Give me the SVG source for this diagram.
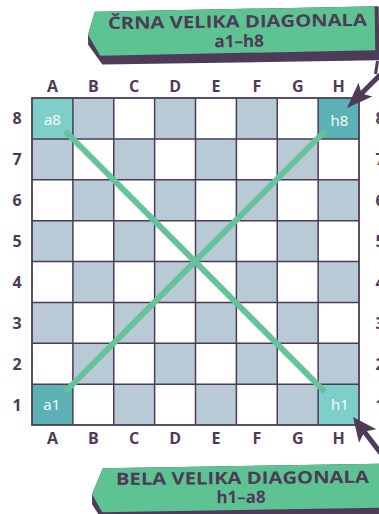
<svg xmlns="http://www.w3.org/2000/svg" width="379" height="514" viewBox="0 0 379 514">
<defs>
<style>
.lbl{font-family:"Open Sans","Liberation Sans",sans-serif;font-weight:700;font-size:16px;fill:#4d3b58;text-anchor:middle}
.sq{font-family:"Open Sans","Liberation Sans",sans-serif;font-weight:500;font-size:15px;fill:#ffffff;text-anchor:middle}
.ban{font-family:"Open Sans","Liberation Sans",sans-serif;font-weight:700;font-size:17px;fill:#4d3b58;text-anchor:middle}
.dk{fill:#b9cad7}
.diag{stroke:#66c299;stroke-width:6;stroke-linecap:butt;fill:none}
.arrow{fill:#4d3b58}
</style>
</defs>
<rect width="379" height="514" fill="#ffffff"/>

<g id="banner-top" transform="rotate(-0.7 235 32)">
<polygon points="95,10 379,8 379,62 102,63 88,43 88,33" fill="#4d3b58"/>
<polygon points="95,10 375,8 375,52 100,54 88,33" fill="#5ec393"/>
<text class="ban" x="237.5" y="27.5" textLength="259" lengthAdjust="spacingAndGlyphs">ČRNA VELIKA DIAGONALA</text>
<text class="ban" x="239" y="47">a1–h8</text>
</g>

<g id="banner-bottom" transform="rotate(-0.5 240 488)">
<polygon points="92,493 103,467 381,465 381,516 100,516 92,503" fill="#4d3b58"/>
<polygon points="92,493 103,467 381,465 381,509 102,511" fill="#5ec393"/>
<text class="ban" x="242.5" y="484" textLength="253" lengthAdjust="spacingAndGlyphs">BELA VELIKA DIAGONALA</text>
<text class="ban" x="241" y="503">h1–a8</text>
</g>

<g id="board">
<rect x="32" y="98" width="327" height="327" fill="#ffffff"/>
<g id="dark-squares">
<rect class="dk" x="72.875" y="98" width="40.875" height="40.875"/>
<rect class="dk" x="154.625" y="98" width="40.875" height="40.875"/>
<rect class="dk" x="236.375" y="98" width="40.875" height="40.875"/>
<rect class="dk" x="32" y="138.875" width="40.875" height="40.875"/>
<rect class="dk" x="113.75" y="138.875" width="40.875" height="40.875"/>
<rect class="dk" x="195.5" y="138.875" width="40.875" height="40.875"/>
<rect class="dk" x="277.25" y="138.875" width="40.875" height="40.875"/>
<rect class="dk" x="72.875" y="179.75" width="40.875" height="40.875"/>
<rect class="dk" x="154.625" y="179.75" width="40.875" height="40.875"/>
<rect class="dk" x="236.375" y="179.75" width="40.875" height="40.875"/>
<rect class="dk" x="318.125" y="179.75" width="40.875" height="40.875"/>
<rect class="dk" x="32" y="220.625" width="40.875" height="40.875"/>
<rect class="dk" x="113.75" y="220.625" width="40.875" height="40.875"/>
<rect class="dk" x="195.5" y="220.625" width="40.875" height="40.875"/>
<rect class="dk" x="277.25" y="220.625" width="40.875" height="40.875"/>
<rect class="dk" x="72.875" y="261.5" width="40.875" height="40.875"/>
<rect class="dk" x="154.625" y="261.5" width="40.875" height="40.875"/>
<rect class="dk" x="236.375" y="261.5" width="40.875" height="40.875"/>
<rect class="dk" x="318.125" y="261.5" width="40.875" height="40.875"/>
<rect class="dk" x="32" y="302.375" width="40.875" height="40.875"/>
<rect class="dk" x="113.75" y="302.375" width="40.875" height="40.875"/>
<rect class="dk" x="195.5" y="302.375" width="40.875" height="40.875"/>
<rect class="dk" x="277.25" y="302.375" width="40.875" height="40.875"/>
<rect class="dk" x="72.875" y="343.25" width="40.875" height="40.875"/>
<rect class="dk" x="154.625" y="343.25" width="40.875" height="40.875"/>
<rect class="dk" x="236.375" y="343.25" width="40.875" height="40.875"/>
<rect class="dk" x="318.125" y="343.25" width="40.875" height="40.875"/>
<rect class="dk" x="113.75" y="384.125" width="40.875" height="40.875"/>
<rect class="dk" x="195.5" y="384.125" width="40.875" height="40.875"/>
<rect class="dk" x="277.25" y="384.125" width="40.875" height="40.875"/>
</g>
<g id="sq-a8"><rect x="32" y="98" width="40.875" height="40.875" fill="#7ecfca"/><text class="sq" x="52.4" y="125">a8</text></g>
<g id="sq-h8"><rect x="318.125" y="98" width="40.875" height="40.875" fill="#5bb1b3"/><text class="sq" x="339.5" y="125.5">h8</text></g>
<g id="sq-a1"><rect x="32" y="384.125" width="40.875" height="40.875" fill="#5bb1b3"/><text class="sq" x="51.8" y="410">a1</text></g>
<g id="sq-h1"><rect x="318.125" y="384.125" width="40.875" height="40.875" fill="#7ecfca"/><text class="sq" x="340" y="409.5">h1</text></g>
<path d="M72.875 98V425M113.75 98V425M154.625 98V425M195.5 98V425M236.375 98V425M277.25 98V425M318.125 98V425M32 138.875H359M32 179.75H359M32 220.625H359M32 261.5H359M32 302.375H359M32 343.25H359M32 384.125H359" stroke="#4d3b58" stroke-width="1.5" fill="none"/>
<rect x="32" y="98" width="327" height="327" stroke="#4d3b58" stroke-width="1.8" fill="none"/>
</g>

<g id="connectors">
<line class="diag" x1="65" y1="131" x2="325" y2="392"/>
<line class="diag" x1="65" y1="392" x2="325" y2="131"/>
<g id="arrow-top">
<line x1="360" y1="95" x2="382" y2="73" stroke="#4d3b58" stroke-width="5"/>
<polygon class="arrow" points="347,108 358.5,82.7 361.5,93.5 372.3,96.5"/>
<line x1="377.5" y1="61" x2="375.5" y2="74" stroke="#4d3b58" stroke-width="3"/>
</g>
<g id="arrow-bottom">
<line x1="363" y1="430" x2="383" y2="456" stroke="#4d3b58" stroke-width="5"/>
<polygon class="arrow" points="353,417 376.4,429.3 364.5,431.5 359,442.7"/>
</g>
</g>

<g id="labels">
<text class="lbl" x="52.4" y="91.5">A</text>
<text class="lbl" x="93.3" y="91.5">B</text>
<text class="lbl" x="134.2" y="91.5">C</text>
<text class="lbl" x="175.1" y="91.5">D</text>
<text class="lbl" x="215.9" y="91.5">E</text>
<text class="lbl" x="256.8" y="91.5">F</text>
<text class="lbl" x="297.7" y="91.5">G</text>
<text class="lbl" x="338.6" y="91.5">H</text>
<text class="lbl" x="52.4" y="444">A</text>
<text class="lbl" x="93.3" y="444">B</text>
<text class="lbl" x="134.2" y="444">C</text>
<text class="lbl" x="175.1" y="444">D</text>
<text class="lbl" x="215.9" y="444">E</text>
<text class="lbl" x="256.8" y="444">F</text>
<text class="lbl" x="297.7" y="444">G</text>
<text class="lbl" x="338.6" y="444">H</text>
<text class="lbl" x="17" y="124.3">8</text>
<text class="lbl" x="17" y="165.2">7</text>
<text class="lbl" x="17" y="206.1">6</text>
<text class="lbl" x="17" y="247">5</text>
<text class="lbl" x="17" y="287.8">4</text>
<text class="lbl" x="17" y="328.7">3</text>
<text class="lbl" x="17" y="369.6">2</text>
<text class="lbl" x="17" y="410.5">1</text>
<text class="lbl" x="380" y="124.3">8</text>
<text class="lbl" x="380" y="165.2">7</text>
<text class="lbl" x="380" y="206.1">6</text>
<text class="lbl" x="380" y="247">5</text>
<text class="lbl" x="380" y="287.8">4</text>
<text class="lbl" x="380" y="328.7">3</text>
<text class="lbl" x="380" y="369.6">2</text>
<text class="lbl" x="380" y="410.5">1</text>
</g>
</svg>
